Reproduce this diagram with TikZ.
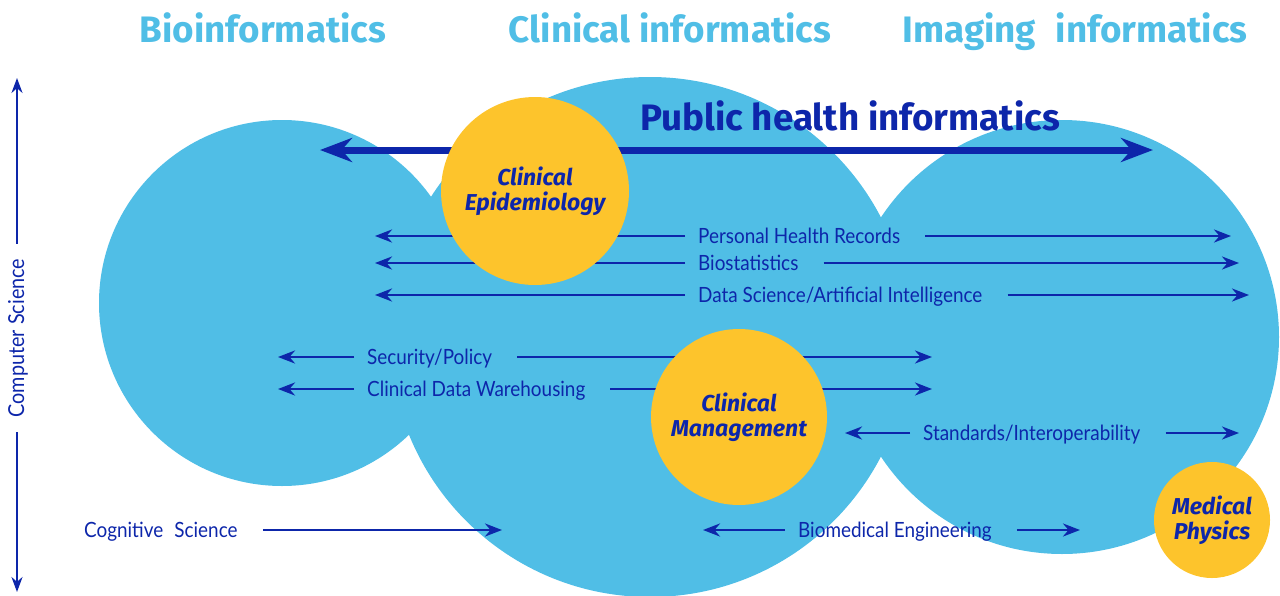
\documentclass[tikz,border=0pt]{standalone}
\usepackage{fontspec}
\setmainfont{Lato}[FakeStretch=0.9]
\newfontfamily\headfont{Fira Sans}
\usetikzlibrary{arrows.meta}
\definecolor{skyblue}{HTML}{50BEE6}
\definecolor{gold}{HTML}{FDC42C}
\definecolor{navy}{HTML}{0D26AA}

\begin{document}
\begin{tikzpicture}[x=1pt,y=-1pt,
  bnode/.style={circle,fill=skyblue,minimum size=#1,inner sep=0pt},
  ynode/.style={circle,fill=gold,minimum size=#1,inner sep=0pt,align=center,text=navy,font=\headfont\bfseries\itshape\fontsize{23}{25.5}\selectfont},
  ttl/.style={anchor=base,inner sep=0pt,text=skyblue,font=\headfont\bfseries\fontsize{36.8}{40}\selectfont},
  lbl/.style={anchor=west,inner xsep=13pt,inner ysep=0pt,text height=15pt,text depth=0pt,text=navy,font=\fontsize{21}{24}\selectfont},
  arr/.style={draw=navy,line width=2.6pt,-{Stealth[length=17pt,width=13pt]}},
  rarr/.style={arr,shorten <=12pt},
  bigarr/.style={draw=navy,line width=7pt,{Stealth[length=32pt,width=24pt]}-{Stealth[length=32pt,width=24pt]}},
  vax/.style={draw=navy,line width=2.2pt,-{Stealth[length=15pt,width=11pt]}}]
    \useasboundingbox (0,0) rectangle (1280,595);

    \node[bnode=366] (bio) at (282,303) {};
    \node[bnode=520] (clin) at (650,337) {};
    \node[bnode=434] (img) at (1062,337) {};

    \node[ttl] (bioT) at (263,42) {Bioinformatics};
    \node[ttl] (clinT) at (670,42) {Clinical informatics};
    \node[ttl] (imgT) at (1075,42) {Imaging\hspace{0.3em} informatics};
    \node[ttl,text=navy] (pub) at (850,130) {Public health informatics};

    \coordinate (pubW) at (320,150);
    \coordinate (pubE) at (1153,150);
    \draw[bigarr] (pubW) -- (pubE);

    \node[lbl] (phr) at (685,236) {Personal Health Records};
    \node[lbl] (bst) at (685,263) {Biostatistics};
    \node[lbl] (dsai) at (685,295) {Data Science/Artificial Intelligence};
    \node[lbl] (sec) at (354,357) {Security/Policy};
    \node[lbl] (cdw) at (354,389) {Clinical Data Warehousing};
    \node[lbl] (std) at (910,433) {Standards/Interoperability};
    \node[lbl] (bme) at (785,530) {Biomedical Engineering};
    \node[lbl] (cog) at (71,530) {Cognitive\hspace{0.3em} Science};

    \coordinate (phrW) at (375,236);
    \coordinate (phrE) at (1231,236);
    \coordinate (bstW) at (375,263);
    \coordinate (bstE) at (1239,263);
    \coordinate (dsaiW) at (375,295);
    \coordinate (dsaiE) at (1249,295);
    \coordinate (secW) at (278,357);
    \coordinate (secE) at (932,357);
    \coordinate (cdwW) at (278,389);
    \coordinate (cdwE) at (932,389);
    \coordinate (stdW) at (845,433);
    \coordinate (stdE) at (1239,433);
    \coordinate (bmeW) at (703,530);
    \coordinate (bmeE) at (1080,530);
    \coordinate (cogE) at (502,530);

    \draw[arr] (phr.west) -- (phrW);
    \draw[rarr] (phr.east) -- (phrE);
    \draw[arr] (bst.west) -- (bstW);
    \draw[rarr] (bst.east) -- (bstE);
    \draw[arr] (dsai.west) -- (dsaiW);
    \draw[rarr] (dsai.east) -- (dsaiE);
    \draw[arr] (sec.west) -- (secW);
    \draw[rarr] (sec.east) -- (secE);
    \draw[arr] (cdw.west) -- (cdwW);
    \draw[rarr] (cdw.east) -- (cdwE);
    \draw[arr] (std.west) -- (stdW);
    \draw[rarr] (std.east) -- (stdE);
    \draw[arr] (bme.west) -- (bmeW);
    \draw[rarr] (bme.east) -- (bmeE);
    \draw[rarr] (cog.east) -- (cogE);

    \node[ynode=188] (epi) at (535,191) {Clinical\\Epidemiology};
    \node[ynode=176] (mgmt) at (739,417) {Clinical\\Management};
    \node[ynode=116] (phys) at (1212,520) {Medical\\Physics};

    \node[lbl,anchor=center,rotate=90,inner xsep=15pt,text height=14pt,font=\fontsize{22}{24}\selectfont] (cs) at (17,338) {Computer Science};
    \coordinate (csTop) at (17,78);
    \coordinate (csBot) at (17,592);
    \draw[vax] (cs.east) -- (csTop);
    \draw[vax] (cs.west) -- (csBot);
\end{tikzpicture}
\end{document}
